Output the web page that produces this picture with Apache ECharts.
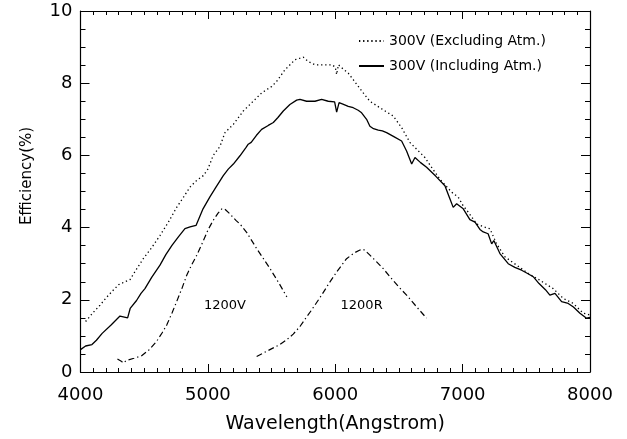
<!DOCTYPE html>
<html>
<head>
<meta charset="utf-8">
<script src="https://cdn.jsdelivr.net/npm/echarts@6/dist/echarts.min.js"></script>
<style>
html,body{margin:0;padding:0;background:#fff;}
#chart{width:627px;height:439px;}
</style>
</head>
<body>
<div id="chart"></div>
<script>
// ---- data ----
var exclWave = [4040,4100,4153,4200,4258,4300,4349,4389,4440,4493,4560,4624,4690,4755,4810,4859,4910,4964,5000,5042,5095,5134,5200,5278,5356,5422,5501,5540,5605,5684,5749,5788,5841,5906,5972,6000,6011,6025,6060,6102,6141,6220,6272,6351,6455,6521,6586,6645,6704,6760,6822,6914,6966,7005,7044,7110,7175,7214,7267,7332,7424,7515,7607,7711,7790,7868,7947,8000];
var exclEff  = [1.40,1.65,1.85,2.05,2.27,2.42,2.50,2.56,2.85,3.14,3.45,3.78,4.15,4.56,4.85,5.12,5.30,5.44,5.62,6.00,6.25,6.63,6.86,7.23,7.50,7.73,7.91,8.05,8.37,8.65,8.72,8.60,8.51,8.51,8.51,8.45,8.24,8.51,8.40,8.28,8.10,7.73,7.50,7.32,7.09,6.77,6.36,6.15,5.94,5.65,5.34,4.98,4.84,4.60,4.43,4.10,4.01,3.97,3.55,3.19,2.96,2.73,2.54,2.31,2.04,1.90,1.63,1.58];

var inclWave = [4000,4040,4090,4125,4170,4240,4310,4370,4390,4440,4475,4506,4560,4624,4670,4718,4770,4820,4860,4907,4962,5016,5060,5121,5160,5200,5252,5300,5317,5340,5380,5422,5474,5514,5550,5592,5644,5697,5723,5775,5841,5893,5945,5995,6011,6030,6060,6102,6141,6180,6207,6246,6272,6300,6338,6370,6403,6460,6521,6560,6600,6626,6670,6717,6790,6861,6900,6926,6953,7005,7057,7097,7136,7162,7200,7228,7245,7293,7358,7410,7463,7510,7554,7600,7650,7685,7725,7777,7829,7870,7921,7973,8000];
var inclEff  = [0.62,0.72,0.76,0.88,1.07,1.30,1.55,1.50,1.76,1.98,2.18,2.31,2.63,2.96,3.25,3.51,3.75,3.97,4.02,4.06,4.52,4.85,5.10,5.44,5.62,5.76,5.99,6.22,6.31,6.36,6.55,6.72,6.83,6.91,7.05,7.23,7.41,7.53,7.55,7.50,7.50,7.55,7.50,7.48,7.20,7.46,7.42,7.36,7.32,7.25,7.18,7.00,6.81,6.74,6.70,6.68,6.63,6.52,6.40,6.12,5.76,5.94,5.80,5.67,5.42,5.16,4.80,4.56,4.66,4.52,4.22,4.15,3.95,3.88,3.83,3.55,3.64,3.28,3.00,2.90,2.82,2.73,2.64,2.45,2.28,2.13,2.18,1.95,1.90,1.80,1.63,1.49,1.51];

var v1200Wave = [4290,4320,4336,4360,4420,4480,4540,4598,4640,4677,4720,4755,4800,4834,4870,4912,4960,5003,5042,5080,5110,5130,5173,5220,5252,5304,5383,5487,5560,5620];
var v1200Eff  = [0.36,0.30,0.25,0.32,0.38,0.45,0.62,0.85,1.08,1.30,1.65,1.95,2.35,2.68,2.95,3.23,3.60,3.95,4.20,4.40,4.52,4.52,4.38,4.20,4.10,3.87,3.42,2.87,2.45,2.08];

var r1200Wave = [5383,5487,5560,5618,5670,5723,5770,5815,5893,5950,6011,6089,6150,6194,6220,6260,6325,6380,6429,6500,6560,6640,6717];
var r1200Eff  = [0.43,0.62,0.75,0.89,1.05,1.26,1.50,1.72,2.13,2.45,2.77,3.14,3.30,3.38,3.40,3.28,3.05,2.85,2.64,2.35,2.13,1.80,1.49];

var seriesNames = ['300V (Excluding Atm.)','300V (Including Atm.)'];
var gratingLabels = ['1200V','1200R'];
var gratingLabelPos = [[5134,1.85],[6207,1.85]];

var xTicks = {min:4000, max:8000, interval:1000};
var yTicks = {min:0, max:10, interval:2};

function zip(a,b){ return a.map(function(v,i){ return [v,b[i]]; }); }

var FONT = 'DejaVu Sans';
var chart = echarts.init(document.getElementById('chart'), null, {renderer:'canvas'});

function xAx(pos, showLabel){
  return {
    type:'value', position:pos, min:xTicks.min, max:xTicks.max, interval:xTicks.interval,
    axisLine:{show:true, onZero:false, lineStyle:{color:'#000', width:1.2}},
    axisTick:{show:true, inside:true, length:8, lineStyle:{color:'#000', width:1}},
    minorTick:{show:true, splitNumber:10, length:4, lineStyle:{color:'#000', width:1}},
    splitLine:{show:false}, minorSplitLine:{show:false},
    axisLabel:{show:showLabel, color:'#000', fontSize:18, fontFamily:FONT, margin:14,
               formatter:function(v){ return String(v); }},
    name: showLabel ? 'Wavelength(Angstrom)' : '',
    nameLocation:'middle', nameGap:43,
    nameTextStyle:{color:'#000', fontSize:19, fontFamily:FONT}
  };
}
function yAx(pos, showLabel){
  return {
    type:'value', position:pos, min:yTicks.min, max:yTicks.max, interval:yTicks.interval,
    axisLine:{show:true, onZero:false, lineStyle:{color:'#000', width:1.2}},
    axisTick:{show:true, inside:true, length:9, lineStyle:{color:'#000', width:1}},
    minorTick:{show:true, splitNumber:4, length:5, lineStyle:{color:'#000', width:1}},
    splitLine:{show:false}, minorSplitLine:{show:false},
    axisLabel:{show:showLabel, color:'#000', fontSize:18, fontFamily:FONT, margin:8,
               formatter:function(v){ return String(v); }}
  };
}

var option = {
  backgroundColor:'#fff',
  animation:false,
  grid:{left:80.5, right:37, top:11, bottom:65, containLabel:false},
  xAxis:[xAx('bottom', true), xAx('top', false)],
  yAxis:[yAx('left', true), yAx('right', false)],
  legend:{
    data:seriesNames, orient:'vertical', left:353, top:29,
    itemWidth:25, itemHeight:14, itemGap:11,
    textStyle:{color:'#000', fontSize:14, fontFamily:FONT},
    itemStyle:{color:'rgba(0,0,0,0)', borderWidth:0, opacity:0}
  },
  graphic:[{
    type:'text', x:27, y:176, rotation:Math.PI/2,
    style:{text:'Efficiency(%)', fill:'#000', font:'15px "DejaVu Sans"', align:'center', verticalAlign:'middle'}
  }],
  series:[
    {name:seriesNames[0], type:'line', data:zip(exclWave, exclEff), symbol:'none', showSymbol:false,
     lineStyle:{color:'#000', width:1.3, type:[1.3,2.8]}, itemStyle:{color:'#000'}},
    {name:seriesNames[1], type:'line', data:zip(inclWave, inclEff), symbol:'none', showSymbol:false,
     lineStyle:{color:'#000', width:1.3, type:'solid'}, itemStyle:{color:'#000'}},
    {name:gratingLabels[0], type:'line', data:zip(v1200Wave, v1200Eff), symbol:'none', showSymbol:false,
     lineStyle:{color:'#000', width:1.2, type:[6,3,1.3,3]}, itemStyle:{color:'#000'},
     markPoint:{symbol:'circle', symbolSize:1, itemStyle:{color:'rgba(0,0,0,0)'},
       label:{show:true, position:'inside', formatter:'{b}', color:'#000', fontSize:13, fontFamily:FONT},
       data:[{name:gratingLabels[0], coord:gratingLabelPos[0]}]}},
    {name:gratingLabels[1], type:'line', data:zip(r1200Wave, r1200Eff), symbol:'none', showSymbol:false,
     lineStyle:{color:'#000', width:1.2, type:[6,3,1.3,3]}, itemStyle:{color:'#000'},
     markPoint:{symbol:'circle', symbolSize:1, itemStyle:{color:'rgba(0,0,0,0)'},
       label:{show:true, position:'inside', formatter:'{b}', color:'#000', fontSize:13, fontFamily:FONT},
       data:[{name:gratingLabels[1], coord:gratingLabelPos[1]}]}}
  ]
};
chart.setOption(option);
</script>
</body>
</html>
